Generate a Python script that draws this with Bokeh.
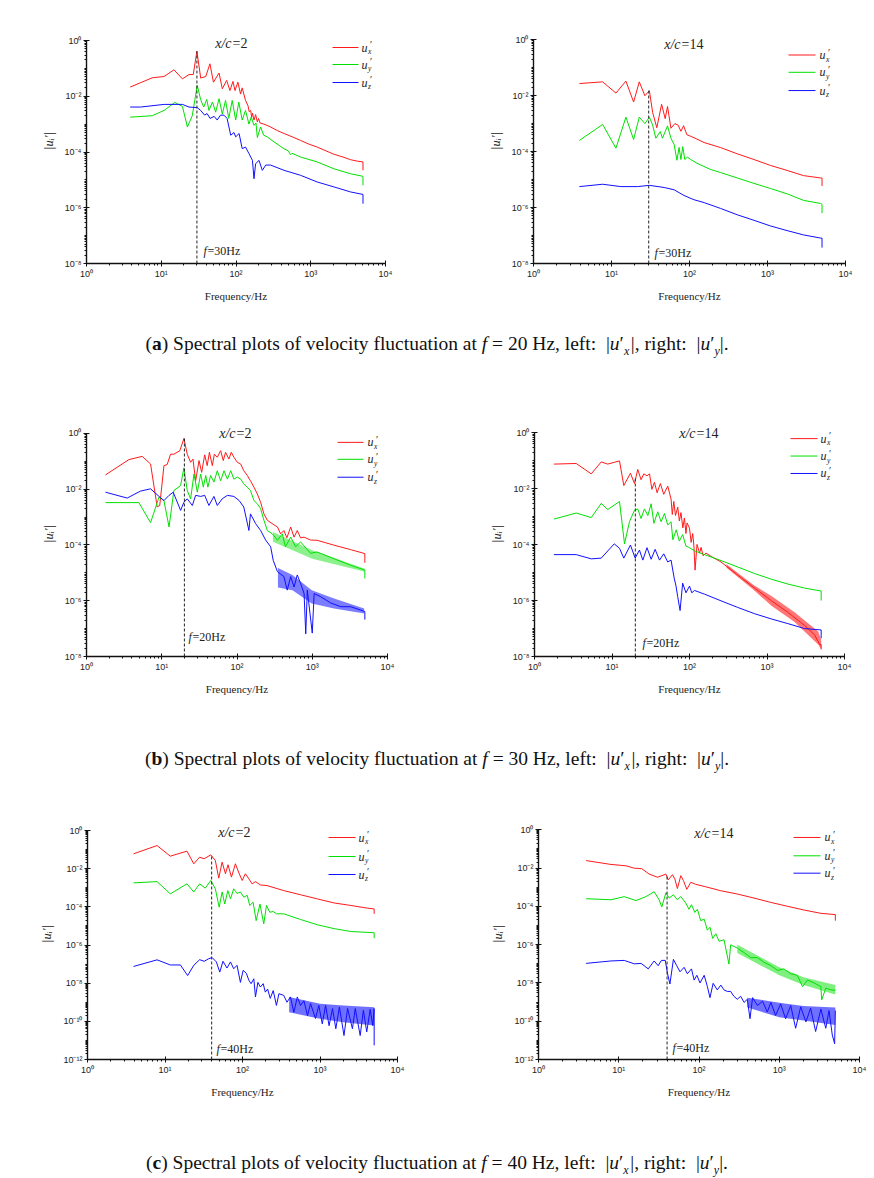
from bokeh.plotting import figure
from bokeh.layouts import column, row
from bokeh.models import FixedTicker, CustomJSTickFormatter, Div, Range1d, Label
from bokeh.embed import file_html
from bokeh.resources import INLINE
from bokeh.core.properties import value

# ---------------- DATA ----------------
# Panel (a) left, x/c=2, f=30 Hz
AL_RED_F = [3.84, 7.6, 10.9, 14.8, 19.2, 23.5, 26.8, 30, 33.7, 39.4, 44.8, 49.9, 59.3, 65.6, 75, 83, 91, 97, 106, 115, 121, 134, 145, 150, 157, 162, 166, 174, 183, 193, 200, 210, 237, 260, 290, 360, 440, 580, 730, 950, 1220, 1600, 2040, 2700, 3400, 4200, 5000, 5000]
AL_RED_U = [0.0214, 0.046, 0.051, 0.089, 0.042, 0.060, 0.060, 0.41, 0.045, 0.051, 0.146, 0.032, 0.068, 0.0186, 0.037, 0.016, 0.034, 0.016, 0.032, 0.012, 0.02, 0.0071, 0.0045, 0.0028, 0.0031, 0.0018, 0.0025, 0.0014, 0.0022, 0.0012, 0.0016, 0.0011, 0.0010, 0.0009, 0.00079, 0.00058, 0.00046, 0.00034, 0.00026, 0.00019, 0.00015, 0.00011, 0.000083, 0.000066, 0.000053, 0.000047, 0.000044, 0.000022]
AL_GRN_F = [3.84, 7.6, 10.9, 15.2, 19.2, 22.4, 26, 30.3, 33.7, 37, 40.6, 43.5, 48.4, 53.5, 59.3, 65.6, 72.5, 80, 89, 99, 109, 121, 134, 149, 160, 174, 185, 193, 213, 235, 261, 323, 440, 500, 537, 560, 730, 1220, 2040, 3400, 5000, 5000]
AL_GRN_U = [0.00178, 0.0020, 0.0031, 0.0060, 0.0043, 0.00079, 0.002, 0.0245, 0.0075, 0.0041, 0.0077, 0.0031, 0.0062, 0.0027, 0.0082, 0.0023, 0.0071, 0.0016, 0.0071, 0.0014, 0.0062, 0.0014, 0.0031, 0.001, 0.0018, 0.0009, 0.0011, 0.00033, 0.00079, 0.0004, 0.00035, 0.00023, 0.00013, 0.00011, 0.00008, 0.00009, 0.000066, 0.000044, 0.000025, 0.0000166, 0.0000134, 0.0000064]
AL_BLU_F = [3.84, 5.3, 10.9, 19.2, 23.5, 30.3, 33.7, 38, 41, 45, 51, 56, 62, 69, 76, 85, 94, 99, 110, 121, 134, 149, 166, 174, 183, 203, 225, 250, 290, 440, 730, 1220, 2040, 3400, 5000, 5000]
AL_BLU_U = [0.0041, 0.0041, 0.0051, 0.0051, 0.0041, 0.0039, 0.0031, 0.0021, 0.0024, 0.0016, 0.0019, 0.0014, 0.0021, 0.0021, 0.0016, 0.0004, 0.0005, 0.00035, 0.00046, 0.000132, 0.00015, 0.000088, 0.00005, 0.000011, 0.000038, 0.00005, 0.000022, 0.000034, 0.000034, 0.000022, 0.0000146, 0.0000084, 0.0000056, 0.0000037, 0.000003, 0.0000014]

# Panel (a) right, x/c=14, f=30 Hz
AR_RED_F = [3.88, 7.7, 11.4, 15.3, 19.2, 22.7, 26.8, 30.6, 33.7, 38.1, 43.9, 48.8, 52.3, 57.8, 65, 71.5, 77.6, 84, 92.5, 104, 121, 154, 250, 410, 670, 1090, 1780, 2900, 4790, 5000, 5000]
AR_RED_U = [0.027, 0.031, 0.0123, 0.033, 0.0059, 0.031, 0.0099, 0.015, 0.0025, 0.00071, 0.0049, 0.0015, 0.0041, 0.00068, 0.001, 0.00088, 0.00053, 0.00084, 0.0004, 0.00035, 0.00029, 0.00021, 0.000139, 0.000083, 0.000052, 0.000032, 0.0000212, 0.0000138, 0.0000114, 0.0000114, 0.0000059]
AR_GRN_F = [3.88, 7.7, 11.4, 15.3, 19.2, 22.7, 26.8, 30.6, 33.7, 37, 42.2, 45, 48.8, 52.3, 57.8, 63.5, 69, 73.5, 77.6, 82, 87, 94, 104, 121, 140, 187, 250, 410, 670, 1090, 1780, 2900, 4790, 5000, 5000]
AR_GRN_U = [0.00025, 0.00093, 0.000132, 0.0017, 0.00027, 0.0017, 0.0010, 0.0017, 0.00088, 0.0003, 0.00052, 0.0003, 0.00052, 0.00083, 0.0003, 0.00018, 0.000049, 0.00014, 0.000052, 0.00015, 0.000052, 0.000063, 0.000052, 0.00004, 0.000033, 0.0000228, 0.0000178, 0.0000114, 0.0000073, 0.0000048, 0.0000031, 0.0000018, 0.0000014, 0.0000013, 0.00000063]
AR_BLU_F = [3.88, 7.7, 13.2, 21.6, 30.6, 47.3, 63.6, 85, 114, 154, 250, 410, 670, 1090, 1780, 2900, 4790, 5000, 5000]
AR_BLU_U = [5.6e-6, 6.8e-6, 5.6e-6, 5.6e-6, 6.2e-6, 5.2e-6, 4.3e-6, 2.7e-6, 1.9e-6, 1.5e-6, 9.3e-7, 5.5e-7, 3.5e-7, 2.2e-7, 1.5e-7, 1.05e-7, 8.1e-8, 8.1e-8, 3.7e-8]

# Panel (b) left, x/c=2, f=20 Hz
BL_RED_F = [1.79, 3.66, 5.5, 7.1, 8.7, 9.4, 10.7, 11.8, 13.1, 14.5, 17.4, 19.7, 21.8, 24.2, 26, 28.2, 31.3, 33.9, 37.2, 40.2, 43, 47, 50, 54.7, 60.6, 65.7, 70.5, 78, 83.8, 91, 101, 112, 123, 137, 151, 168, 186, 206, 228, 253, 294, 345, 380, 420, 460, 517, 573, 632, 700, 779, 950, 1160, 1950, 3240, 5000, 5000]
BL_RED_U = [0.0325, 0.115, 0.15, 0.080, 0.0023, 0.0026, 0.070, 0.076, 0.18, 0.18, 0.24, 0.66, 0.18, 0.092, 0.12, 0.020, 0.106, 0.04, 0.17, 0.070, 0.21, 0.07, 0.18, 0.14, 0.24, 0.106, 0.21, 0.12, 0.21, 0.14, 0.092, 0.08, 0.046, 0.031, 0.020, 0.0118, 0.0068, 0.0034, 0.0013, 0.00077, 0.00058, 0.00044, 0.00025, 0.00033, 0.00018, 0.00044, 0.00019, 0.00033, 0.00018, 0.00019, 0.00015, 0.000147, 0.000098, 0.000068, 0.000049, 0.000023]
BL_GRN_F = [1.79, 4.97, 7.1, 9.2, 10.7, 12.5, 14.5, 17.8, 19.7, 21.8, 24.2, 26.8, 29.7, 32.9, 35.7, 38.4, 41, 44.6, 49.4, 54.7, 60.6, 67.2, 74.5, 82.5, 91, 101, 112, 123, 137, 151, 168, 186, 206, 228, 253, 294, 345, 400, 440, 517, 600, 700, 950, 1160, 1950, 3240, 5000, 5000]
BL_GRN_U = [0.0033, 0.0033, 0.00063, 0.0052, 0.0039, 0.00044, 0.009, 0.0135, 0.058, 0.009, 0.0045, 0.035, 0.0078, 0.035, 0.0118, 0.031, 0.0118, 0.031, 0.018, 0.046, 0.020, 0.046, 0.023, 0.046, 0.023, 0.027, 0.023, 0.0155, 0.0118, 0.009, 0.0039, 0.003, 0.002, 0.00077, 0.00033, 0.00025, 0.000147, 0.00025, 0.000086, 0.00019, 0.000086, 0.000128, 0.00005, 0.000056, 0.000032, 0.0000187, 0.0000125, 0.0000063]
BL_BLU_F = [1.79, 3.47, 5.2, 7.1, 9.2, 10.7, 12.5, 14.2, 17.8, 19.7, 21.8, 25.5, 28.2, 32.9, 37.2, 42.3, 49.4, 54.7, 63.5, 74.5, 91, 107, 123, 144, 151, 177, 206, 240, 280, 303, 345, 420, 465, 517, 573, 632, 700, 779, 820, 860, 1000, 1060, 1290, 1760, 2400, 3240, 5000, 5000]
BL_BLU_U = [0.0078, 0.0048, 0.0085, 0.0103, 0.0055, 0.0039, 0.0060, 0.0078, 0.00174, 0.0034, 0.0045, 0.0026, 0.006, 0.0055, 0.006, 0.0026, 0.0055, 0.0026, 0.0045, 0.006, 0.0055, 0.0039, 0.0023, 0.00033, 0.0013, 0.00058, 0.00033, 0.00015, 0.000086, 0.000028, 0.000011, 0.0000073, 0.0000024, 0.0000073, 0.0000031, 0.0000084, 0.0000042, 0.0000018, 6.5e-8, 0.0000024, 6.9e-8, 0.0000018, 0.0000014, 8.3e-7, 6.1e-7, 6.1e-7, 4.1e-7, 2.1e-7]
BL_GRN_BAND_F = [300, 1000, 5000]
BL_GRN_BAND_HI = [2.9e-4, 6.5e-5, 1.4e-5]
BL_GRN_BAND_LO = [1.3e-4, 3.2e-5, 1.1e-5]
BL_BLU_BAND_F = [350, 546, 985, 1950, 4900]
BL_BLU_BAND_HI = [1.5e-5, 8.3e-6, 2.4e-6, 1.2e-6, 5.3e-7]
BL_BLU_BAND_LO = [3e-6, 2.4e-6, 8e-7, 5.3e-7, 3.5e-7]

# Panel (b) right, x/c=14, f=20 Hz
BR_RED_F = [1.78, 3.45, 5.4, 7.26, 8.8, 12.5, 14.2, 17.3, 19.5, 21.5, 23.7, 25.7, 28.3, 30.5, 32.7, 35.3, 38.2, 42.1, 46.5, 52.4, 57.8, 60, 62.7, 66, 70.5, 74, 77.6, 82, 86, 90, 93, 100, 105, 110, 114, 118, 125, 135, 141, 150, 163, 190, 255, 418, 690, 1140, 1860, 3040, 4100, 4770, 5000, 5000]
BR_RED_U = [0.076, 0.080, 0.034, 0.091, 0.076, 0.099, 0.013, 0.036, 0.0153, 0.049, 0.021, 0.034, 0.029, 0.034, 0.0095, 0.017, 0.0072, 0.0153, 0.0063, 0.0124, 0.0043, 0.0012, 0.0035, 0.0011, 0.0022, 0.0007, 0.0014, 0.0004, 0.0009, 0.00025, 0.0006, 0.00039, 0.00012, 0.00025, 0.00009, 0.0000123, 0.000102, 0.00005, 0.00008, 0.00004, 0.00005, 0.000038, 0.000024, 0.0000082, 0.0000028, 9.8e-7, 3.8e-7, 1.3e-7, 6e-8, 2.7e-8, 2.7e-8, 1.8e-8]
BR_GRN_F = [1.78, 3.45, 5.4, 7.26, 8.8, 12.5, 14.5, 16.8, 19.5, 21.5, 23.7, 26.2, 29, 32, 34.7, 38.9, 43, 47.5, 52.4, 57.8, 61, 67.4, 74, 81.6, 90, 100, 116, 156, 255, 418, 690, 1140, 1860, 3040, 5000, 5000]
BR_GRN_U = [0.00082, 0.00135, 0.00093, 0.0030, 0.0018, 0.0035, 0.000107, 0.00066, 0.0017, 0.0019, 0.00086, 0.0019, 0.0011, 0.0029, 0.00058, 0.0015, 0.00066, 0.0013, 0.00051, 0.00066, 0.00015, 0.00034, 0.000134, 0.00023, 0.000089, 0.000078, 0.00006, 0.000044, 0.000027, 0.0000159, 0.0000093, 0.0000058, 0.0000039, 0.0000028, 0.0000022, 0.000001]
BR_BLU_F = [1.78, 3.45, 5.4, 7.26, 10.7, 12.5, 14.2, 17.3, 19.9, 22.6, 25, 28.3, 32, 36, 41, 46.5, 52.4, 57.8, 63.5, 67, 70.4, 75.6, 81.6, 90, 100, 107, 116, 156, 255, 418, 690, 1140, 1860, 3040, 5000, 5000]
BR_BLU_U = [0.000044, 0.000044, 0.000031, 0.000033, 0.000107, 0.000074, 0.000033, 0.000097, 0.000033, 0.000064, 0.000028, 0.000078, 0.00003, 0.000068, 0.000028, 0.000047, 0.000024, 0.000028, 0.0000063, 0.0000033, 0.0000014, 4.4e-7, 0.0000042, 0.0000019, 0.0000033, 0.0000019, 0.0000023, 0.0000017, 9.8e-7, 5.7e-7, 3.4e-7, 2.2e-7, 1.5e-7, 1.0e-7, 8.9e-8, 4.5e-8]
BR_RED_BAND_F = [300, 664, 1140, 2270, 4570, 5000]
BR_RED_BAND_HI = [2.0e-5, 3.7e-6, 1.45e-6, 3.8e-7, 7.8e-8, 4e-8]
BR_RED_BAND_LO = [1.5e-5, 2.5e-6, 6.5e-7, 1.7e-7, 2.7e-8, 1.8e-8]

# Panel (c) left, x/c=2, f=40 Hz
CL_RED_F = [3.93, 7.9, 11.7, 19.2, 23.5, 28, 32, 39, 44.6, 49.4, 54.6, 60.3, 65, 72, 81, 89, 99, 109, 121, 133, 147, 170, 207, 340, 560, 925, 1520, 2500, 4100, 5000, 5000]
CL_RED_U = [0.060, 0.163, 0.045, 0.083, 0.0179, 0.040, 0.033, 0.053, 0.027, 0.0032, 0.022, 0.0054, 0.016, 0.0036, 0.018, 0.0066, 0.0024, 0.0054, 0.0029, 0.0016, 0.0021, 0.0014, 0.0013, 0.00071, 0.00043, 0.00026, 0.00016, 0.000118, 0.000085, 0.000078, 0.000043]
CL_GRN_F = [3.93, 7.9, 11.7, 19.2, 23.5, 28, 33, 39, 44.6, 50, 54.6, 59, 64.6, 70, 77, 85, 94, 104, 115, 124, 137, 150, 168, 188, 204, 225, 248, 275, 340, 560, 925, 1520, 2500, 5000, 5000]
CL_GRN_U = [0.0018, 0.0021, 0.00048, 0.0016, 0.0006, 0.0016, 0.00095, 0.0024, 0.00088, 0.000096, 0.0006, 0.00014, 0.00071, 0.00026, 0.00088, 0.0005, 0.0006, 0.00032, 0.0004, 0.000118, 0.000175, 0.000019, 0.00014, 0.0000128, 0.000118, 0.000052, 0.000057, 0.000043, 0.000043, 0.0000218, 0.0000115, 0.0000072, 0.0000051, 0.0000044, 0.0000023]
CL_BLU_F = [3.93, 7.9, 11.7, 15.8, 19.6, 23.5, 28, 32, 36.6, 40.5, 46, 50.9, 56, 63, 70, 77, 85, 94, 102, 112, 121, 129, 140, 147, 158, 170, 185, 197, 211, 228, 249, 274, 295, 340, 375, 415, 460, 510, 560, 620, 690, 755, 875, 965, 1070, 1180, 1310, 1450, 1600, 1780, 2040, 2270, 2620, 2850, 3300, 3630, 4010, 4440, 4790, 5000, 5000]
CL_BLU_U = [7.5e-8, 1.67e-7, 9.0e-8, 9.0e-8, 2.5e-8, 8.6e-8, 1.7e-7, 1.4e-7, 1.9e-7, 2.2e-7, 1.3e-7, 3.8e-8, 1.4e-7, 6.2e-8, 1.3e-7, 5.7e-8, 8.6e-8, 1.1e-8, 4.7e-8, 3.3e-8, 1.4e-8, 9.4e-9, 1.7e-8, 1.9e-9, 1.1e-8, 6.3e-9, 9.4e-9, 3.4e-9, 4.9e-9, 1.6e-9, 4.1e-9, 6.8e-10, 2.8e-9, 2.3e-9, 1.0e-9, 1.9e-9, 3.0e-10, 1.9e-9, 6.8e-10, 1.2e-9, 2.0e-10, 8.5e-10, 1.4e-10, 6.8e-10, 7.4e-11, 6.8e-10, 5.9e-11, 4.7e-10, 4.1e-11, 5.6e-10, 1.8e-11, 4.7e-10, 4.1e-11, 4.7e-10, 1.8e-11, 3.8e-10, 2.8e-11, 4.2e-10, 6.0e-11, 4.7e-10, 5.5e-12]
CL_BLU_BAND_F = [400, 1000, 2000, 5000]
CL_BLU_BAND_HI = [1.9e-9, 8.3e-10, 6.8e-10, 5.5e-10]
CL_BLU_BAND_LO = [3e-10, 1.35e-10, 9e-11, 6e-11]

# Panel (c) right, x/c=14, f=40 Hz
CR_RED_F = [3.92, 8, 12.3, 15.6, 19.3, 24, 30.5, 38.7, 41.4, 46.7, 50, 53.8, 59.3, 64, 70.5, 79, 91.3, 116, 187, 300, 485, 785, 1270, 2040, 3300, 5000, 5000]
CR_RED_U = [0.0245, 0.0154, 0.0131, 0.0098, 0.0093, 0.0048, 0.0033, 0.0048, 0.0024, 0.0045, 0.0027, 0.00085, 0.0040, 0.0022, 0.00077, 0.0018, 0.0014, 0.0011, 0.00065, 0.00044, 0.00027, 0.00016, 0.0001, 0.000064, 0.000043, 0.000037, 0.0000178]
CR_GRN_F = [3.92, 8, 11.7, 16.4, 21.8, 27.6, 31.8, 34.4, 38.7, 42.5, 48, 53.8, 59.3, 68.4, 75, 80.6, 88.7, 95.5, 105, 116, 127, 137, 148, 162, 178, 205, 236, 248, 300, 365, 440, 535, 645, 785, 950, 1145, 1390, 1680, 1950, 2250, 2720, 3300, 3380, 3800, 4380, 5000]
CR_GRN_U = [0.00025, 0.00022, 0.00032, 0.0002, 0.00032, 0.00058, 0.00022, 0.000093, 0.00051, 0.00027, 0.0004, 0.00022, 0.00032, 0.00015, 0.00007, 0.000122, 0.000048, 0.00007, 0.0000178, 0.0000215, 0.0000057, 0.0000081, 0.0000021, 0.0000037, 0.0000015, 0.0000018, 9.6e-8, 9.8e-7, 6.6e-7, 3.8e-7, 2.1e-7, 2.1e-7, 1.2e-7, 8.0e-8, 4.5e-8, 5.4e-8, 3.0e-8, 2.5e-8, 6.4e-9, 1.4e-8, 1.0e-8, 6.4e-9, 1.3e-9, 5.3e-9, 4.4e-9, 4.1e-9]
CR_BLU_F = [3.92, 8, 11.7, 15.6, 19, 23.3, 27.6, 31, 34, 38, 40.6, 43.4, 48, 52.8, 58, 65.3, 71.6, 80.6, 87, 94, 103, 116, 127, 137, 150, 169, 187, 205, 225, 248, 272, 300, 330, 365, 400, 432, 465, 535, 620, 710, 785, 900, 1040, 1200, 1390, 1600, 1850, 2150, 2460, 2840, 3300, 3800, 4170, 4580, 4900, 5000]
CR_BLU_U = [1.05e-7, 1.4e-7, 1.5e-7, 9.9e-8, 1.05e-7, 5.4e-8, 1.4e-7, 7.9e-8, 1.5e-7, 1.5e-7, 3e-8, 8.8e-9, 1.7e-7, 7.9e-8, 3.8e-8, 6.5e-8, 3e-8, 5.4e-8, 1.4e-8, 2.5e-8, 1.0e-8, 2.5e-8, 6.6e-9, 1.7e-9, 9.5e-9, 4.3e-9, 7.7e-9, 4.3e-9, 3.6e-9, 3.6e-9, 2e-9, 1.4e-9, 2e-9, 9.6e-10, 1.4e-9, 1.35e-10, 1.7e-9, 6.6e-10, 1.1e-9, 3.0e-10, 9.6e-10, 2.0e-10, 8e-10, 1.35e-10, 6.6e-10, 4.3e-11, 5.6e-10, 9.2e-11, 4.8e-10, 2.9e-11, 4.3e-10, 4.3e-11, 3.6e-10, 1.9e-11, 6.7e-12, 3.6e-10]
CR_GRN_BAND_F = [300, 1000, 2000, 5000]
CR_GRN_BAND_HI = [9.8e-7, 6.6e-8, 2.0e-8, 7.8e-9]
CR_GRN_BAND_LO = [3.7e-7, 2.5e-8, 7.8e-9, 2.5e-9]
CR_BLU_BAND_F = [400, 1000, 2000, 5000]
CR_BLU_BAND_HI = [1.7e-9, 9.3e-10, 6.3e-10, 5.2e-10]
CR_BLU_BAND_LO = [5.2e-10, 1.6e-10, 1.1e-10, 6.3e-11]

# forcing frequency markers (f, top of dashed line)
VLINE_F = {"AL": 30, "AR": 30, "BL": 20, "BR": 20, "CL": 40, "CR": 40}
VLINE_TOP = {"AL": 0.41, "AR": 0.015, "BL": 0.66, "BR": 0.025, "CL": 0.049, "CR": 0.004}
STATIONS = {"AL": "2", "AR": "14", "BL": "2", "BR": "14", "CL": "2", "CR": "14"}
SERIES_NAMES = ["x", "y", "z"]
CAPTION_LETTERS = ["a", "b", "c"]
CAPTION_FREQS = [20, 30, 40]

# ---------------- STYLE / LAYOUT ----------------
COLORS = ["#ff1a1a", "#00e000", "#1010ff"]
SERIF = "Liberation Serif"
EXTRA_TOP = 22   # px of (unaxed) frame kept above 10^0 so titles are not clipped

PANELS = {
    "AL": dict(size=(437, 320), frame=(86, 385, 40, 263), ybot=-8,
               series=[(AL_RED_F, AL_RED_U), (AL_GRN_F, AL_GRN_U), (AL_BLU_F, AL_BLU_U)], bands=[],
               title=(232, 43), flab=(203, 250), leg=(332, 358, 361, [47, 64, 82])),
    "AR": dict(size=(437, 320), frame=(96, 408, 34, 267), ybot=-8,
               series=[(AR_RED_F, AR_RED_U), (AR_GRN_F, AR_GRN_U), (AR_BLU_F, AR_BLU_U)], bands=[],
               title=(247, 39), flab=(217, 256), leg=(351, 378, 382, [50, 68, 87])),
    "BL": dict(size=(437, 320), frame=(86, 387, 43, 267), ybot=-8,
               series=[(BL_RED_F, BL_RED_U), (BL_GRN_F, BL_GRN_U), (BL_BLU_F, BL_BLU_U)],
               bands=[(1, BL_GRN_BAND_F, BL_GRN_BAND_LO, BL_GRN_BAND_HI, 0.45), (2, BL_BLU_BAND_F, BL_BLU_BAND_LO, BL_BLU_BAND_HI, 0.55)],
               title=(236, 43), flab=(188, 247), leg=(337, 363, 367, [52, 69, 87])),
    "BR": dict(size=(437, 320), frame=(97, 407, 35, 266), ybot=-8,
               series=[(BR_RED_F, BR_RED_U), (BR_GRN_F, BR_GRN_U), (BR_BLU_F, BR_BLU_U)],
               bands=[(0, BR_RED_BAND_F, BR_RED_BAND_LO, BR_RED_BAND_HI, 0.6)],
               title=(262, 36), flab=(205, 252), leg=(353, 380, 383, [41, 59, 77])),
    "CL": dict(size=(437, 320), frame=(87, 397, 25, 254), ybot=-12,
               series=[(CL_RED_F, CL_RED_U), (CL_GRN_F, CL_GRN_U), (CL_BLU_F, CL_BLU_U)],
               bands=[(2, CL_BLU_BAND_F, CL_BLU_BAND_LO, CL_BLU_BAND_HI, 0.6)],
               title=(235, 27), flab=(216, 243), leg=(328, 355, 358, [32, 51, 69])),
    "CR": dict(size=(437, 320), frame=(101, 422, 24, 262), ybot=-12,
               series=[(CR_RED_F, CR_RED_U), (CR_GRN_F, CR_GRN_U), (CR_BLU_F, CR_BLU_U)],
               bands=[(1, CR_GRN_BAND_F, CR_GRN_BAND_LO, CR_GRN_BAND_HI, 0.5), (2, CR_BLU_BAND_F, CR_BLU_BAND_LO, CR_BLU_BAND_HI, 0.6)],
               title=(277, 28), flab=(235, 250), leg=(356, 383, 387, [32, 51, 69])),
}

SUP_JS = """
const e = Math.round(Math.log10(tick));
const m = {'-':'\u207b','0':'\u2070','1':'\u00b9','2':'\u00b2','3':'\u00b3','4':'\u2074','5':'\u2075','6':'\u2076','7':'\u2077','8':'\u2078','9':'\u2079'};
return '10' + String(e).split('').map(c => m[c]).join('');
"""


def make_panel(key):
    cfg = PANELS[key]
    W, H = cfg["size"]
    L, R, T, B = cfg["frame"]
    ybot = cfg["ybot"]
    dec_per_px = (0.0 - ybot) / (B - T)
    ytop_ext = EXTRA_TOP * dec_per_px

    def to_data(px, py):
        lx = (px - L) / (R - L) * 4.0
        ly = 0.0 - (py - T) * dec_per_px
        return 10 ** lx, 10 ** ly

    p = figure(width=W, height=H, x_axis_type="log", y_axis_type="log",
               x_range=Range1d(1, 1e4), y_range=Range1d(10.0 ** ybot, 10.0 ** ytop_ext),
               output_backend="svg", toolbar_location=None,
               min_border_left=L, min_border_right=W - R, min_border_top=T - EXTRA_TOP,
               min_border_bottom=H - B)
    p.outline_line_color = None
    p.grid.visible = False
    p.background_fill_color = "white"
    p.border_fill_color = "white"

    xmaj = [10.0 ** k for k in range(0, 5)]
    xmin = [m * 10.0 ** k for k in range(0, 4) for m in range(2, 10)]
    ymaj = [10.0 ** k for k in range(ybot, 1, 2)]
    ymin = [m * 10.0 ** k for k in range(ybot, 0) for m in range(1, 10) if not (m == 1 and (k - ybot) % 2 == 0)]
    p.xaxis.ticker = FixedTicker(ticks=xmaj, minor_ticks=xmin)
    p.yaxis.ticker = FixedTicker(ticks=ymaj, minor_ticks=ymin)
    p.yaxis.bounds = (10.0 ** ybot, 1.0)
    fmt = CustomJSTickFormatter(code=SUP_JS)
    for ax in (p.xaxis[0], p.yaxis[0]):
        ax.formatter = fmt
        ax.axis_line_width = 1.4
        ax.axis_line_color = "#111111"
        ax.major_tick_in = 3
        ax.major_tick_out = 3
        ax.minor_tick_in = 0
        ax.minor_tick_out = 2
        ax.major_tick_line_color = "#111111"
        ax.minor_tick_line_color = "#111111"
        ax.major_label_text_font = "Liberation Sans"
        ax.major_label_text_font_size = "9px"
        ax.major_label_text_color = "#222222"
        ax.major_label_standoff = 2
        ax.axis_label_text_font = SERIF
        ax.axis_label_text_color = "#222222"
    p.xaxis.axis_label = "Frequency/Hz"
    p.xaxis.axis_label_text_font_size = "11px"
    p.xaxis.axis_label_text_font_style = "normal"
    p.xaxis.axis_label_standoff = 8
    p.yaxis.axis_label = "|u\u1d62\u2032|"
    p.yaxis.axis_label_text_font_size = "12.5px"
    p.yaxis.axis_label_text_font_style = "italic"
    p.yaxis.axis_label_standoff = 6
    p.yaxis.major_label_orientation = "horizontal"

    # dense-noise bands, then the spectra
    for idx, bf, blo, bhi, alpha in cfg["bands"]:
        p.varea(x=bf, y1=blo, y2=bhi, fill_color=COLORS[idx], fill_alpha=alpha)
    for (fx, uy), col in zip(cfg["series"], COLORS):
        p.line(fx, uy, line_color=col, line_width=1.0)

    # dashed forcing-frequency line
    fv = VLINE_F[key]
    p.segment(x0=[fv], y0=[10.0 ** ybot], x1=[fv], y1=[VLINE_TOP[key]],
              line_color="#222222", line_width=1.0, line_dash="3 2")

    # f = xx Hz label
    fxp, fyp = cfg["flab"]
    fx_d, fy_d = to_data(fxp, fyp)
    p.add_layout(Label(x=fx_d, y=fy_d, text="f", text_font=SERIF, text_font_size="12px",
                       text_font_style="italic", text_baseline="middle", text_align="left",
                       text_color="#222222"))
    p.add_layout(Label(x=fx_d, y=fy_d, x_offset=4, text="=%dHz" % fv, text_font=SERIF,
                       text_font_size="12px", text_baseline="middle", text_align="left",
                       text_color="#222222"))

    # station title x/c=..
    txp, typ = cfg["title"]
    rest = "=" + STATIONS[key]
    split = txp - 1 - 3 * (len(rest) - 2)
    sx_d, sy_d = to_data(split, typ)
    p.add_layout(Label(x=sx_d, y=sy_d, text="x/c", text_font=SERIF, text_font_size="14px",
                       text_font_style="italic", text_baseline="middle", text_align="right",
                       text_color="#222222"))
    p.add_layout(Label(x=sx_d, y=sy_d, x_offset=1, text=rest, text_font=SERIF, text_font_size="14px",
                       text_font_style="normal", text_baseline="middle", text_align="left",
                       text_color="#222222"))

    # legend
    lx0, lx1, ltx, rows = cfg["leg"]
    for name, col, ry in zip(SERIES_NAMES, COLORS, rows):
        x0d, yd = to_data(lx0, ry)
        x1d, _ = to_data(lx1, ry)
        txd, _ = to_data(ltx, ry)
        p.segment(x0=[x0d], y0=[yd], x1=[x1d], y1=[yd], line_color=col, line_width=1.0)
        p.text(x=[txd], y=[yd], text=["u"], text_font=value(SERIF), text_font_size="12px",
               text_font_style="italic", text_baseline="middle", text_align="left", text_color="#222222")
        p.text(x=[txd], y=[yd], text=[name], x_offset=6.5, y_offset=4, text_font=value(SERIF),
               text_font_size="7.5px", text_font_style="italic", text_baseline="middle",
               text_align="left", text_color="#222222")
        p.text(x=[txd], y=[yd], text=["\u2032"], x_offset=8.5, y_offset=-3, text_font=value(SERIF),
               text_font_size="10px", text_baseline="middle", text_align="left", text_color="#222222")
    return p


def caption(letter, freq, height, pad):
    html = ('<div style="width:874px;text-align:center;font-family:\'Liberation Serif\',serif;'
            'font-size:19.5px;line-height:22px;color:#111;padding-top:%dpx;margin:0;">'
            '(<b>%s</b>) Spectral plots of velocity fluctuation at <i>f</i> = %d Hz, left: &nbsp;|<i>u</i>&#8242;<sub style="font-size:12px"><i>x</i></sub>&#8202;|, '
            'right: &nbsp;|<i>u</i>&#8242;<sub style="font-size:12px"><i>y</i></sub>|.</div>') % (pad, letter, freq)
    return Div(text=html, width=874, height=height, margin=(0, 0, 0, 0))


figs = {k: make_panel(k) for k in PANELS}
cap_h = [70, 95, 53]
cap_pad = [13, 38, 27]
caps = [caption(CAPTION_LETTERS[i], CAPTION_FREQS[i], cap_h[i], cap_pad[i]) for i in range(3)]

layout = column(
    row(figs["AL"], figs["AR"], spacing=0), caps[0],
    row(figs["BL"], figs["BR"], spacing=0), caps[1],
    row(figs["CL"], figs["CR"], spacing=0), caps[2],
    spacing=0,
)

open("out.html", "w").write(file_html(layout, INLINE, title="Spectral plots"))
